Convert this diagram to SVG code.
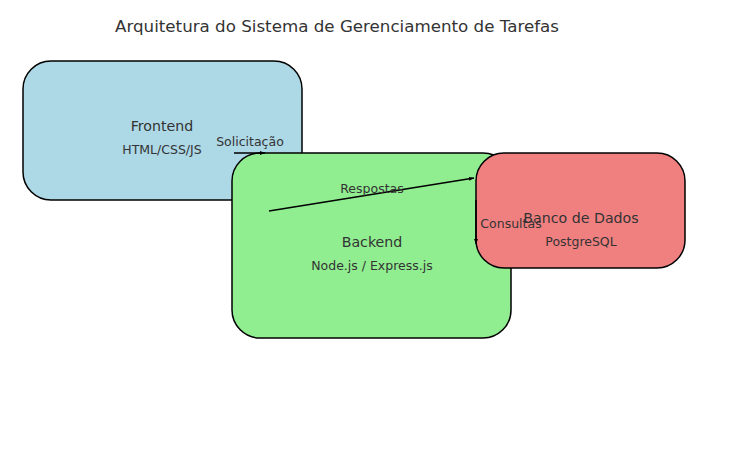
<svg xmlns="http://www.w3.org/2000/svg" width="751" height="450" viewBox="0 0 751 450">
<defs>
<style>
text{font-family:"DejaVu Sans",sans-serif;fill:#333;text-anchor:middle}
.t{font-size:16.7px}
.n{font-size:14.2px}
.s{font-size:12.5px}
.box{stroke:#000;stroke-width:1.5}
.c{stroke:#000;stroke-width:1.5;fill:none;marker-end:url(#ah)}
</style>
<marker id="ah" viewBox="0 0 10 10" refX="10" refY="5" markerWidth="5" markerHeight="5" orient="auto" markerUnits="userSpaceOnUse"><path d="M0,1 L10,5 L0,9 Z" fill="#000"/></marker>
</defs>
<rect width="751" height="450" fill="#fff"/>
<text class="t" x="337" y="32">Arquitetura do Sistema de Gerenciamento de Tarefas</text>
<g id="frontend">
<rect class="box" x="23" y="61" width="279" height="139" rx="28" fill="#add8e6"/>
<text class="n" x="162" y="131">Frontend</text>
<text class="s" x="162" y="154">HTML/CSS/JS</text>
</g>
<g id="backend">
<rect class="box" x="232" y="153" width="279" height="185" rx="28" fill="#90ee90"/>
<text class="n" x="372" y="247">Backend</text>
<text class="s" x="372" y="270">Node.js / Express.js</text>
</g>
<g id="banco">
<rect class="box" x="476" y="153" width="209" height="115" rx="28" fill="#f08080"/>
<text class="n" x="581" y="223">Banco de Dados</text>
<text class="s" x="581" y="246">PostgreSQL</text>
</g>
<g id="connectors">
<line class="c" x1="234" y1="153" x2="265" y2="153"/>
<line class="c" x1="269" y1="211" x2="474" y2="178"/>
<line class="c" x1="476" y1="200" x2="476" y2="244"/>
<text class="s" x="250" y="146">Solicitação</text>
<text class="s" x="372" y="193">Respostas</text>
<text class="s" x="511" y="228">Consultas</text>
</g>
</svg>
